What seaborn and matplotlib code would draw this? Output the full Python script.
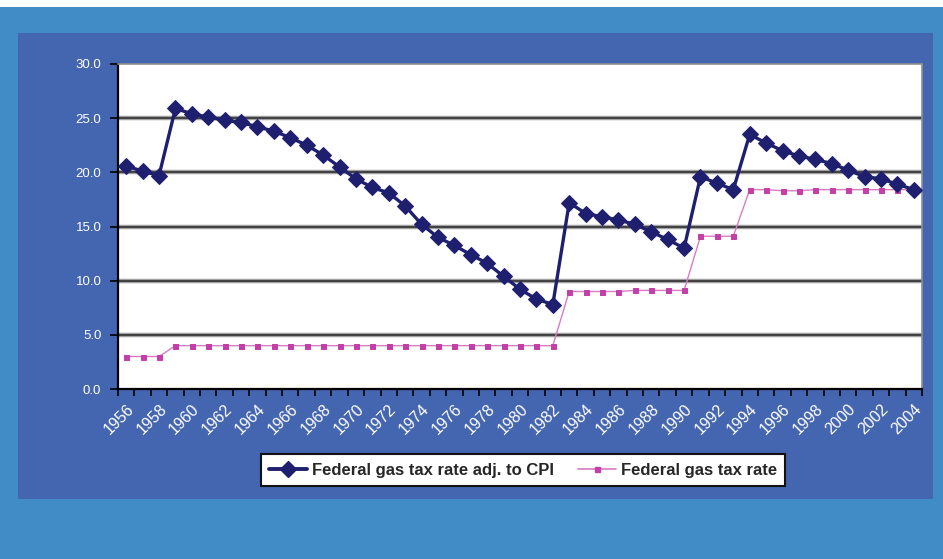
import matplotlib
matplotlib.use("Agg")
import matplotlib.pyplot as plt
from matplotlib.patches import Rectangle
from matplotlib.lines import Line2D
import seaborn as sns
import pandas as pd

years = list(range(1956, 2005))
cpi_adjusted = [20.6, 20.1, 19.7, 25.9, 25.4, 25.1, 24.8, 24.6, 24.2, 23.8,
                23.2, 22.5, 21.6, 20.5, 19.4, 18.6, 18.1, 16.9, 15.2, 14.0,
                13.25, 12.4, 11.6, 10.4, 9.2, 8.3, 7.8, 17.2, 16.2, 15.9,
                15.6, 15.2, 14.5, 13.8, 13.0, 19.6, 19.0, 18.4, 23.5, 22.7,
                22.0, 21.5, 21.2, 20.8, 20.2, 19.6, 19.4, 18.9, 18.4]
nominal = [3.0, 3.0, 3.0, 4.0, 4.0, 4.0, 4.0, 4.0, 4.0, 4.0,
           4.0, 4.0, 4.0, 4.0, 4.0, 4.0, 4.0, 4.0, 4.0, 4.0,
           4.0, 4.0, 4.0, 4.0, 4.0, 4.0, 4.0, 9.0, 9.0, 9.0,
           9.0, 9.1, 9.1, 9.1, 9.1, 14.1, 14.1, 14.1, 18.4, 18.4,
           18.3, 18.3, 18.4, 18.4, 18.4, 18.4, 18.4, 18.4, 18.4]
series_names = ["Federal gas tax rate adj. to CPI", "Federal gas tax rate"]
y_ticks = [0, 5, 10, 15, 20, 25, 30]

df = pd.DataFrame({"year": years, "adj": cpi_adjusted, "nom": nominal})

sns.set_theme(style="white")
plt.rcParams["font.family"] = ["Liberation Sans", "DejaVu Sans"]

W, H = 943, 559
fig = plt.figure(figsize=(W / 100, H / 100), dpi=100)
fig.patch.set_facecolor("#418BC7")
fig.patches.append(Rectangle((0, 1 - 7 / H), 1, 7 / H, transform=fig.transFigure,
                             facecolor="white", edgecolor="none", zorder=-10))
fig.patches.append(Rectangle((18 / W, 1 - 499 / H), (933 - 18) / W, (499 - 33) / H,
                             transform=fig.transFigure, facecolor="#4465B0",
                             edgecolor="none", zorder=-10))

ax = fig.add_axes([118 / W, 1 - 389 / H, (922 - 118) / W, (389 - 64) / H])
ax.set_zorder(1)
ax.set_facecolor("white")

navy = "#1F1F70"
pink = "#C43FA6"

for yv in y_ticks[1:-1]:
    ax.axhline(yv, color="#A0A0A0", lw=3.2, zorder=1)
    ax.axhline(yv, color="#3A3A3A", lw=1.3, zorder=1)

sns.lineplot(data=df, x="year", y="nom", ax=ax, color="#D77CC4", lw=1.0,
             marker="s", markersize=3.6, markerfacecolor=pink,
             markeredgecolor=pink, zorder=3)
sns.lineplot(data=df, x="year", y="adj", ax=ax, color=navy, lw=2.4,
             marker="D", markersize=8, markerfacecolor=navy,
             markeredgecolor=navy, zorder=4)

ax.set_xlim(years[0] - 0.5, years[-1] + 0.5)
ax.set_ylim(0, 30)
ax.set_yticks(y_ticks)
ax.set_yticklabels([f"{v:.1f}" for v in y_ticks], color="white", fontsize=9.5)
ax.set_xticks(years[::2])
ax.set_xticklabels([str(y) for y in years[::2]], color="white", fontsize=11.5,
                   rotation=45, ha="right", rotation_mode="anchor")
ax.set_xticks([y - 0.5 for y in years] + [years[-1] + 0.5], minor=True)
ax.tick_params(axis="x", which="major", length=0, pad=9)
ax.tick_params(axis="x", which="minor", length=5, width=1.2, color="black",
               direction="out", bottom=True)
ax.tick_params(axis="y", which="major", length=6, width=1.2, color="black",
               direction="out", left=True, pad=6)
ax.set_xlabel("")
ax.set_ylabel("")

for side in ["left", "bottom"]:
    ax.spines[side].set_color("black")
    ax.spines[side].set_linewidth(1.6)
for side in ["top", "right"]:
    ax.spines[side].set_color("#909090")
    ax.spines[side].set_linewidth(1.2)

handles = [
    Line2D([], [], color=navy, lw=2.8, marker="D", markersize=8),
    Line2D([], [], color="#D77CC4", lw=1.2, marker="s", markersize=3.6,
           markerfacecolor=pink, markeredgecolor=pink),
]
leg = fig.legend(handles, series_names, loc="center",
                 bbox_to_anchor=(523 / W, 1 - 470 / H), ncol=2,
                 frameon=True, fancybox=False, edgecolor="#111111",
                 facecolor="white", handlelength=2.3, columnspacing=1.4,
                 handletextpad=0.3, borderpad=0.5, borderaxespad=0,
                 prop={"family": "Liberation Sans", "weight": "bold", "size": 12})
leg.set_zorder(5)
leg.get_frame().set_linewidth(1.5)
leg.get_frame().set_alpha(1)

fig.savefig("out.png", dpi=100, facecolor=fig.get_facecolor())
